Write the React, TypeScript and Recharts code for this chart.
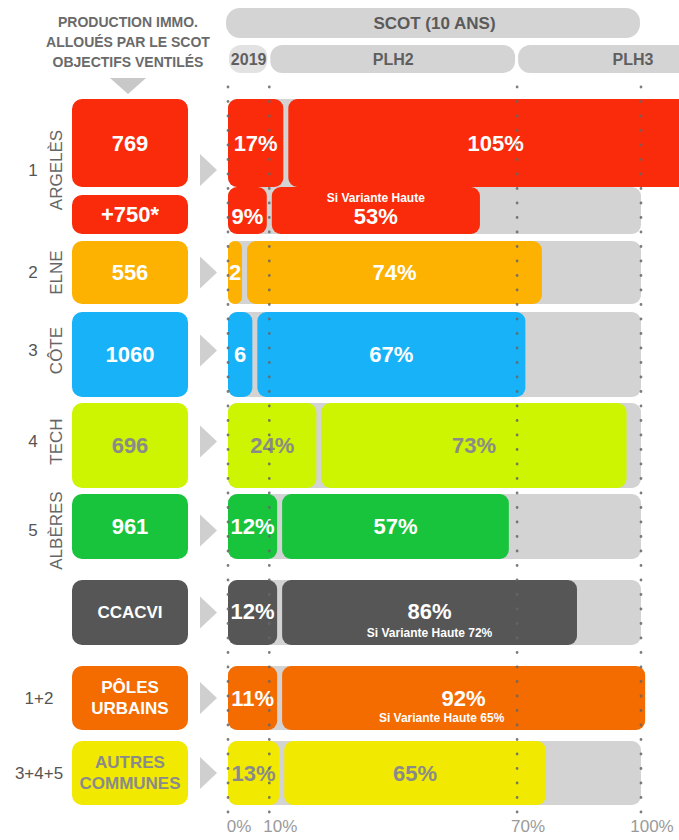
import React from "react";
import { Bar, BarChart, LabelList, Rectangle, ReferenceLine, XAxis, YAxis } from "recharts";

const W = 679;
const H = 840;
const ROW_W = W + 100; // rows run past the page edge, like the Argelès bar
const PLOT_LEFT = 228;
const PX_PER_PCT = 4.13;
const XMAX = (W - PLOT_LEFT) / PX_PER_PCT;
const ROW_XMAX = (ROW_W - PLOT_LEFT) / PX_PER_PCT;
const FONT = "'Liberation Sans', Arial, Helvetica, sans-serif";
const NARROW = "'Liberation Sans Narrow', 'Liberation Sans', Arial, sans-serif";
const TRACK = "#d3d3d3";
const GAP = 2.5;

// rows (Argelès has a second line for the "variante haute")
const rowNames = ["Argelès", "Argelès VH", "Elne", "Côte", "Tech", "Albères", "CCACVI", "Pôles urbains", "Autres communes"];
const boxLines = [["769"], ["+750*"], ["556"], ["1060"], ["696"], ["961"], ["CCACVI"], ["PÔLES", "URBAINS"], ["AUTRES", "COMMUNES"]];
const groupNums = ["1", "", "2", "3", "4", "5", "", "1+2", "3+4+5"];
const groupNames = ["ARGELÈS", "", "ELNE", "CÔTE", "TECH", "ALBÈRES", "", "", ""];

// drawn lengths, in % of the SCOT objective
const part2019 = [14, 10, 4, 6.5, 22, 12.5, 12.5, 12.5, 13];
const partPlh2 = [101, 51, 72, 65.5, 74.5, 55.5, 72, 88.5, 64];

// printed labels
const label2019 = ["17%", "9%", "2", "6", "24%", "12%", "12%", "11%", "13%"];
const labelPlh2 = ["105%", "53%", "74%", "67%", "73%", "57%", "86%", "92%", "65%"];
const notes = ["", "Si Variante Haute", "", "", "", "", "Si Variante Haute 72%", "Si Variante Haute 65%", ""];

const scotTicks = [0, 10, 70, 100];
const periods = [
  { name: "2019", from: 0, to: 10 },
  { name: "PLH2", from: 10, to: 70 },
  { name: "PLH3", from: 70, to: 130 },
];

const rowColors = ["#f92b0b", "#f92b0b", "#fdb100", "#17b2f7", "#cdf400", "#17c43c", "#565656", "#f46b00", "#f1ea00"];
const inkColors = ["#fff", "#fff", "#fff", "#fff", "#8a8a8a", "#fff", "#fff", "#fff", "#8a8a8a"];

// vertical layout of each row
const rowLayout = [
  { top: 99, h: 88, boxInset: 0, sideDy: 27, arrow: true, valueDy: 0, noteDy: 0, noteDx: 0 },
  { top: 187, h: 47, boxInset: 8, sideDy: 0, arrow: false, valueDy: 6, noteDy: -13, noteDx: 0 },
  { top: 241, h: 63, boxInset: 0, sideDy: 0, arrow: true, valueDy: 0, noteDy: 0, noteDx: 0 },
  { top: 312, h: 85, boxInset: 0, sideDy: -4, arrow: true, valueDy: 0, noteDy: 0, noteDx: 0 },
  { top: 403, h: 85, boxInset: 0, sideDy: -4, arrow: true, valueDy: 0, noteDy: 0, noteDx: 0 },
  { top: 494, h: 65, boxInset: 0, sideDy: 4, arrow: true, valueDy: 0, noteDy: 0, noteDx: 0 },
  { top: 580, h: 65, boxInset: 0, sideDy: 0, arrow: true, valueDy: -1, noteDy: 20, noteDx: 0 },
  { top: 666, h: 64, boxInset: 0, sideDy: 0, arrow: true, valueDy: 0, noteDy: 20, noteDx: -22 },
  { top: 741, h: 64, boxInset: 0, sideDy: 0, arrow: true, valueDy: 0, noteDy: 0, noteDx: 0 },
];

const px = (v: number) => PLOT_LEFT + v * PX_PER_PCT;

const segShape = (trimL: number, trimR: number) => (p: any) => {
  const w = Math.max(0, p.width - trimL - trimR);
  return <Rectangle x={p.x + trimL} y={p.y} width={w} height={p.height} radius={9} fill={p.fill} />;
};

const segLabel = (i: number, trimL: number, trimR: number, withNote: boolean) => (p: any) => {
  const vb = p.viewBox && p.viewBox.width !== undefined ? p.viewBox : p;
  const x = vb.x + trimL + (vb.width - trimL - trimR) / 2;
  const cy = vb.y + vb.height / 2;
  const lay = rowLayout[i];
  const note = withNote ? notes[i] : "";
  return (
    <g>
      <text x={x} y={cy + lay.valueDy} textAnchor="middle" dominantBaseline="central" fill={inkColors[i]} fontSize={22} fontWeight={700} fontFamily={FONT}>
        {p.value}
      </text>
      {note ? (
        <text x={x + lay.noteDx} y={cy + lay.noteDy} textAnchor="middle" dominantBaseline="central" fill={inkColors[i]} fontSize={12} fontWeight={700} fontFamily={FONT}>
          {note}
        </text>
      ) : null}
    </g>
  );
};

function SideTick(props: any) {
  const { y, i, h } = props;
  const lay = rowLayout[i];
  const boxTop = y - h / 2 + lay.boxInset;
  const boxH = h - lay.boxInset;
  const lines = boxLines[i];
  const sy = y + lay.sideDy;
  const ink = inkColors[i];
  const fs = lines.length > 1 ? 17 : i === 6 ? 17 : 22;
  return (
    <g>
      <rect x={72} y={boxTop} width={116} height={boxH} rx={10} fill={rowColors[i]} />
      {lines.map((t, k) => (
        <text
          key={k}
          x={130}
          y={boxTop + boxH / 2 + (k - (lines.length - 1) / 2) * 21}
          textAnchor="middle"
          dominantBaseline="central"
          fill={ink}
          fontSize={fs}
          fontWeight={700}
          fontFamily={FONT}
        >
          {t}
        </text>
      ))}
      {lay.arrow ? <polygon points={`200,${sy - 16} 217,${sy} 200,${sy + 16}`} fill="#cfcfcf" /> : null}
      {groupNums[i] ? (
        <text x={groupNames[i] ? 33 : 39} y={sy} textAnchor="middle" dominantBaseline="central" fill="#555" fontSize={17} fontFamily={FONT}>
          {groupNums[i]}
        </text>
      ) : null}
      {groupNames[i] ? (
        <text
          x={56}
          y={sy}
          transform={`rotate(-90 56 ${sy})`}
          textAnchor="middle"
          dominantBaseline="central"
          fill="#666"
          fontSize={17}
          fontFamily={FONT}
        >
          {groupNames[i]}
        </text>
      ) : null}
    </g>
  );
}

function RowChart({ i }: { i: number }) {
  const { top, h } = rowLayout[i];
  const data = [
    {
      name: rowNames[i],
      track: 100,
      p2019: part2019[i],
      plh2: partPlh2[i],
      l2019: label2019[i],
      lplh2: labelPlh2[i],
    },
  ];
  return (
    <div style={{ position: "absolute", left: 0, top, width: ROW_W, height: h }}>
      <BarChart
        width={ROW_W}
        height={h}
        data={data}
        layout="vertical"
        margin={{ top: 0, right: 0, bottom: 0, left: 0 }}
        barCategoryGap={0}
        barGap="-100%"
      >
        <XAxis type="number" domain={[0, ROW_XMAX]} allowDataOverflow hide />
        <YAxis
          type="category"
          dataKey="name"
          width={PLOT_LEFT}
          axisLine={false}
          tickLine={false}
          tick={(p: any) => <SideTick {...p} i={i} h={h} />}
        />
        <Bar dataKey="track" stackId="track" fill={TRACK} shape={segShape(0, 0)} isAnimationActive={false} />
        <Bar dataKey="p2019" stackId="plan" fill={rowColors[i]} shape={segShape(0, GAP)} isAnimationActive={false}>
          <LabelList dataKey="l2019" content={segLabel(i, 0, GAP, false)} />
        </Bar>
        <Bar dataKey="plh2" stackId="plan" fill={rowColors[i]} shape={segShape(GAP, 0)} isAnimationActive={false}>
          <LabelList dataKey="lplh2" content={segLabel(i, GAP, 0, true)} />
        </Bar>
      </BarChart>
    </div>
  );
}

function Header() {
  return (
    <svg width={W} height={100} style={{ position: "absolute", left: 0, top: 0 }}>
      {["PRODUCTION IMMO.", "ALLOUÉS PAR LE SCOT", "OBJECTIFS VENTILÉS"].map((t, k) => (
        <text key={t} x={128} y={22 + k * 20} textAnchor="middle" dominantBaseline="central" fill="#6a6a6a" fontSize={14} fontWeight={700} fontFamily={NARROW}>
          {t}
        </text>
      ))}
      <polygon points="110,78 146,78 128,94" fill="#c8c8c8" />
      <rect x={px(0) - 2} y={8} width={px(100) - px(0) + 1} height={30} rx={14} fill="#d4d4d4" />
      <text x={(px(0) + px(100)) / 2} y={23} textAnchor="middle" dominantBaseline="central" fill="#5a5a5a" fontSize={17} fontWeight={700} fontFamily={NARROW}>
        SCOT (10 ANS)
      </text>
      {periods.map((p) => (
        <g key={p.name}>
          <rect x={px(p.from) + 1} y={45} width={px(p.to) - px(p.from) - 3} height={28} rx={12} fill={p.name === "2019" ? "#e2e2e2" : "#d4d4d4"} />
          <text
            x={p.name === "PLH3" ? px(100) - 8 : (px(p.from) + px(p.to)) / 2}
            y={59}
            textAnchor="middle"
            dominantBaseline="central"
            fill="#5f5f5f"
            fontSize={16}
            fontWeight={700}
            fontFamily={NARROW}
          >
            {p.name}
          </text>
        </g>
      ))}
    </svg>
  );
}

function GridOverlay() {
  return (
    <div style={{ position: "absolute", left: 0, top: 0, width: W, height: H, pointerEvents: "none" }}>
      <BarChart width={W} height={H} data={[{ name: "scot", v: 0 }]} layout="vertical" margin={{ top: 82, right: 0, bottom: 8, left: PLOT_LEFT }}>
        <XAxis
          type="number"
          domain={[0, XMAX]}
          allowDataOverflow
          ticks={scotTicks}
          interval={0}
          tickFormatter={(v: number) => `${v}%`}
          axisLine={false}
          tickLine={false}
          height={20}
          tick={{ fill: "#9a9a9a", fontSize: 17, fontFamily: FONT, dx: 11, dy: 0 }}
        />
        <YAxis type="category" dataKey="name" hide />
        <Bar dataKey="v" fill="transparent" isAnimationActive={false} />
        {scotTicks.map((t) => (
          <ReferenceLine key={t} x={t} stroke="#666" strokeOpacity={0.85} strokeWidth={2.8} strokeDasharray="0 14.5" strokeLinecap="round" />
        ))}
      </BarChart>
    </div>
  );
}

export default function App() {
  return (
    <div style={{ position: "absolute", left: 0, top: 0, width: W, height: H, overflow: "hidden", background: "#fff" }}>
      <style>{`.recharts-surface{overflow:visible}`}</style>
      <Header />
      {rowNames.map((_, i) => (
        <RowChart key={i} i={i} />
      ))}
      <GridOverlay />
    </div>
  );
}
